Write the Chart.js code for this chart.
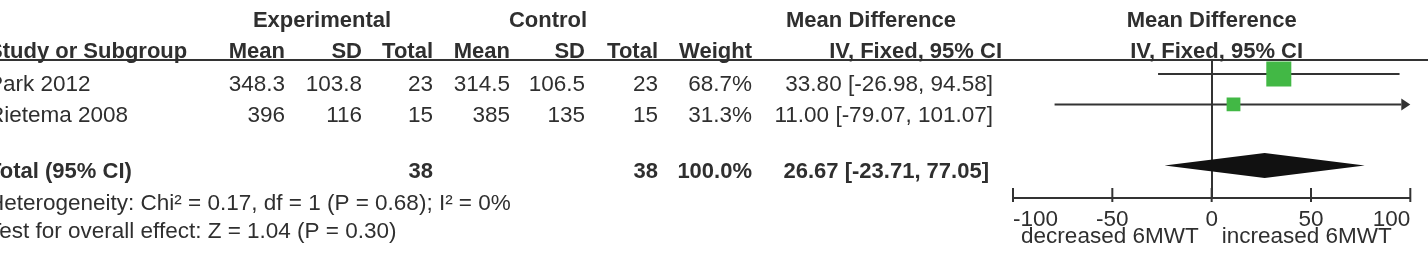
<!DOCTYPE html>
<html>
<head>
<meta charset="utf-8">
<script src="https://cdn.jsdelivr.net/npm/chart.js@4.4.1/dist/chart.umd.min.js"></script>
<style>
html, body { margin: 0; padding: 0; background: #fff; }
canvas { display: block; }
</style>
</head>
<body>
<canvas id="forest" width="1428" height="260"></canvas>
<script>
// study rows
var studies = ['Park 2012', 'Rietema 2008'];
var expMean = [348.3, 396];
var expSD = [103.8, 116];
var expTotal = [23, 15];
var ctlMean = [314.5, 385];
var ctlSD = [106.5, 135];
var ctlTotal = [23, 15];
var weights = [68.7, 31.3];
var meanDiff = [33.80, 11.00];
var ciLow = [-26.98, -79.07];
var ciHigh = [94.58, 101.07];
var studyRows = [0, 1];

// pooled result
var totalN = [38, 38];
var totalWeight = 100.0;
var pooled = [26.67, -23.71, 77.05]; // estimate, low, high
var pooledRow = 3;
var heterogeneity = 'Heterogeneity: Chi\u00b2 = 0.17, df = 1 (P = 0.68); I\u00b2 = 0%';
var overallEffect = 'Test for overall effect: Z = 1.04 (P = 0.30)';

var xTicks = [-100, -50, 0, 50, 100];
var favourLabels = ['decreased 6MWT', 'increased 6MWT'];

var FAMILY = '"Liberation Sans", Arial, sans-serif';
var INK = '#2f2f2f';
var LINE = '#333333';
var GREEN = '#42b845';

function put(ctx, s, x, y, align, bold) {
    ctx.font = (bold ? 'bold 22px ' : '22.5px ') + FAMILY;
    ctx.textAlign = align;
    ctx.textBaseline = 'alphabetic';
    ctx.fillStyle = INK;
    ctx.fillText(s, x, y);
}

function hline(ctx, x1, x2, y, w) {
    ctx.beginPath();
    ctx.lineWidth = w || 2;
    ctx.strokeStyle = LINE;
    ctx.moveTo(x1, y);
    ctx.lineTo(x2, y);
    ctx.stroke();
}

var forestPlugin = {
    id: 'forest',
    beforeDatasetsDraw: function (chart) {
        var ctx = chart.ctx, xs = chart.scales.x, ys = chart.scales.y;
        ctx.save();
        // confidence intervals, arrows when they run off the axis
        for (var i = 0; i < studies.length; i++) {
            var y = ys.getPixelForValue(studyRows[i]);
            var lo = xs.getPixelForValue(Math.max(ciLow[i], xs.min));
            var hi = xs.getPixelForValue(Math.min(ciHigh[i], xs.max));
            var a = 9;
            hline(ctx, lo + (ciLow[i] < xs.min ? a : 0), hi - (ciHigh[i] > xs.max ? a : 0), y, 2);
            ctx.fillStyle = LINE;
            if (ciHigh[i] > xs.max) {
                ctx.beginPath();
                ctx.moveTo(hi, y); ctx.lineTo(hi - a, y - 6); ctx.lineTo(hi - a, y + 6);
                ctx.closePath(); ctx.fill();
            }
            if (ciLow[i] < xs.min) {
                ctx.beginPath();
                ctx.moveTo(lo, y); ctx.lineTo(lo + a, y - 6); ctx.lineTo(lo + a, y + 6);
                ctx.closePath(); ctx.fill();
            }
        }
        ctx.restore();
    },
    afterDraw: function (chart) {
        var ctx = chart.ctx, xs = chart.scales.x, ys = chart.scales.y;
        var area = chart.chartArea;
        ctx.save();

        // header rule across the page
        hline(ctx, 0, chart.width, area.top, 2);

        // tick marks on the axis
        ctx.strokeStyle = LINE;
        ctx.lineWidth = 2;
        xTicks.forEach(function (v) {
            var px = xs.getPixelForValue(v);
            ctx.beginPath();
            ctx.moveTo(px, area.bottom - 10);
            ctx.lineTo(px, area.bottom + 4);
            ctx.stroke();
        });

        // pooled diamond
        var cy = ys.getPixelForValue(pooledRow);
        ctx.fillStyle = '#111';
        ctx.beginPath();
        ctx.moveTo(xs.getPixelForValue(pooled[1]), cy);
        ctx.lineTo(xs.getPixelForValue(pooled[0]), cy - 12.5);
        ctx.lineTo(xs.getPixelForValue(pooled[2]), cy);
        ctx.lineTo(xs.getPixelForValue(pooled[0]), cy + 12.5);
        ctx.closePath();
        ctx.fill();

        // table
        var left = -12;
        var cols = [285, 362, 433, 510, 585, 658, 752, 993];
        var zero = xs.getPixelForValue(0);
        put(ctx, 'Experimental', 322, 27, 'center', true);
        put(ctx, 'Control', 548, 27, 'center', true);
        put(ctx, 'Mean Difference', 871, 27, 'center', true);
        put(ctx, 'Mean Difference', zero, 27, 'center', true);

        var heads = ['Mean', 'SD', 'Total', 'Mean', 'SD', 'Total', 'Weight'];
        put(ctx, 'Study or Subgroup', left, 58, 'left', true);
        heads.forEach(function (h, k) { put(ctx, h, cols[k], 58, 'right', true); });
        put(ctx, 'IV, Fixed, 95% CI', 1002, 58, 'right', true);
        put(ctx, 'IV, Fixed, 95% CI', zero + 5, 58, 'center', true);

        var base = [91, 122];
        for (var i = 0; i < studies.length; i++) {
            var b = base[i];
            put(ctx, studies[i], left, b, 'left');
            var vals = [String(expMean[i]), expSD[i].toFixed(1).replace(/\.0$/, ''), String(expTotal[i]),
                        String(ctlMean[i]), ctlSD[i].toFixed(1).replace(/\.0$/, ''), String(ctlTotal[i]),
                        weights[i].toFixed(1) + '%'];
            vals.forEach(function (v, k) { put(ctx, v, cols[k], b, 'right'); });
            put(ctx, meanDiff[i].toFixed(2) + ' [' + ciLow[i].toFixed(2) + ', ' + ciHigh[i].toFixed(2) + ']', cols[7], b, 'right');
        }

        put(ctx, 'Total (95% CI)', left, 178, 'left', true);
        put(ctx, String(totalN[0]), cols[2], 178, 'right', true);
        put(ctx, String(totalN[1]), cols[5], 178, 'right', true);
        put(ctx, totalWeight.toFixed(1) + '%', cols[6], 178, 'right', true);
        put(ctx, pooled[0].toFixed(2) + ' [' + pooled[1].toFixed(2) + ', ' + pooled[2].toFixed(2) + ']', 989, 178, 'right', true);
        put(ctx, heterogeneity, left, 210, 'left');
        put(ctx, overallEffect, left, 238, 'left');

        // direction labels under the axis
        put(ctx, favourLabels[0], zero - 13, 243, 'right');
        put(ctx, favourLabels[1], zero + 10, 243, 'left');
        ctx.restore();
    }
};

var ctx = document.getElementById('forest').getContext('2d');
var chart = new Chart(ctx, {
    type: 'scatter',
    data: {
        datasets: [{
            label: 'Mean difference',
            data: studies.map(function (s, i) { return { x: meanDiff[i], y: studyRows[i] }; }),
            pointStyle: 'rect',
            pointRadius: weights.map(function (w) { return (w * 0.3 + 4.4) / Math.SQRT2; }),
            pointHoverRadius: weights.map(function (w) { return (w * 0.3 + 4.4) / Math.SQRT2; }),
            backgroundColor: GREEN,
            borderColor: GREEN,
            borderWidth: 0
        }]
    },
    options: {
        responsive: false,
        animation: false,
        devicePixelRatio: 1,
        layout: { padding: { left: 1013, right: 16, top: 60, bottom: 0 } },
        plugins: { legend: { display: false }, tooltip: { enabled: false } },
        scales: {
            x: {
                type: 'linear',
                min: -100,
                max: 100,
                afterBuildTicks: function (s) { s.ticks = xTicks.map(function (v) { return { value: v }; }); },
                afterFit: function (s) { s.height = 62; },
                grid: {
                    drawTicks: false,
                    lineWidth: 2,
                    color: function (c) { return c.tick && c.tick.value === 0 ? LINE : 'rgba(0,0,0,0)'; }
                },
                border: { display: true, color: LINE, width: 2 },
                ticks: {
                    align: 'inner',
                    padding: 8,
                    autoSkip: false,
                    maxRotation: 0,
                    color: INK,
                    font: { family: FAMILY, size: 22.5 }
                }
            },
            y: { type: 'linear', display: false, reverse: true, min: -0.46, max: 4.07 }
        }
    },
    plugins: [forestPlugin]
});
</script>
</body>
</html>
